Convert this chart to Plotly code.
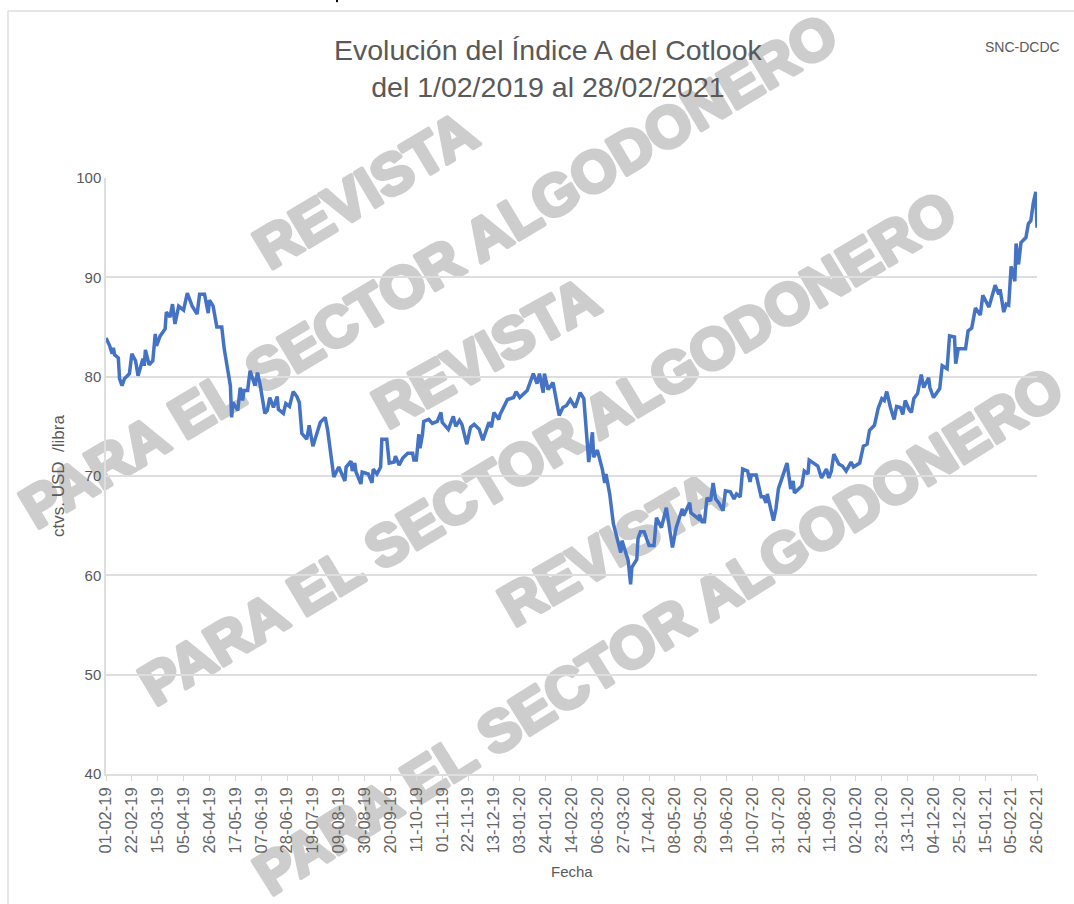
import pandas as pd
import plotly.graph_objects as go

start = pd.Timestamp("2019-02-01")
days = [0,3,5,6,7,10,11,13,15,19,21,24,26,30,31,32,35,38,40,41,44,48,49,52,54,56,59,63,66,70,74,76,80,83,84,87,90,94,96,101,102,103,107,109,111,112,115,117,121,123,125,129,131,133,136,139,140,144,146,149,152,155,157,159,163,165,168,174,178,180,185,189,194,195,199,200,202,203,207,208,213,216,217,220,223,224,228,230,234,235,238,241,245,249,250,252,254,255,257,258,262,265,269,272,273,278,282,284,287,289,293,296,299,303,306,311,313,315,319,320,326,331,333,336,342,347,350,352,355,356,359,363,368,371,374,377,381,385,388,392,395,396,399,403,405,406,409,412,418,419,424,426,427,431,432,434,437,441,445,447,451,455,460,463,468,469,474,475,481,482,484,486,488,491,493,495,498,501,503,507,510,512,515,517,521,523,524,528,532,534,536,537,542,544,546,551,553,556,558,559,565,567,570,571,576,578,581,585,587,589,591,595,598,601,605,607,612,615,618,620,624,627,630,632,634,637,640,642,645,647,649,652,654,656,659,662,664,668,669,672,677,679,683,685,689,690,692,698,700,703,706,710,712,717,722,725,726,729,731,733,735,738,739,741,743,747,749,751,753,755,756]
values = [83.9,83.1,82.3,82.9,82.2,81.9,79.8,79.1,79.8,80.3,82.3,81.6,80.1,81.8,81.1,82.7,81.2,81.6,84.3,83.1,84.1,84.8,86.5,86.0,87.3,85.3,87.1,86.7,88.4,87.1,86.3,88.3,88.3,86.4,87.7,87.1,85.0,85.0,82.8,79.1,75.9,77.4,76.6,78.9,77.6,78.6,78.6,80.6,79.1,80.4,79.3,76.3,76.6,77.9,76.9,78.0,76.7,76.3,77.3,77.0,78.5,78.0,77.4,74.3,73.7,75.1,73.0,75.4,75.9,74.6,69.9,70.9,69.5,70.9,71.5,70.5,71.3,70.4,69.2,70.4,70.2,69.3,70.7,70.2,70.9,73.7,73.7,71.3,71.4,72.0,71.1,71.8,72.3,72.3,71.6,71.6,74.2,72.8,74.2,75.5,75.7,75.3,75.5,76.4,75.4,74.7,76.0,75.0,75.6,75.2,73.2,74.9,75.2,74.7,73.6,75.4,74.9,76.4,75.7,76.2,77.7,77.9,78.5,77.9,78.6,80.3,79.3,80.3,78.4,80.3,78.7,79.4,76.1,76.9,77.1,77.7,76.9,78.4,77.8,71.4,74.4,71.9,72.6,70.7,69.3,70.2,68.2,65.2,62.3,63.5,61.5,59.1,60.8,61.6,63.7,64.4,64.4,63.0,63.0,65.8,64.8,66.8,62.8,64.8,66.7,66.0,67.3,66.3,65.7,66.1,65.4,65.4,67.8,67.5,69.3,67.7,67.2,66.5,68.5,68.4,67.7,68.2,67.9,70.7,70.5,69.4,70.1,70.1,67.9,67.9,67.3,68.2,65.5,66.7,68.7,70.5,71.3,68.7,69.5,68.3,69.0,70.5,70.2,71.6,71.2,71.0,69.8,70.7,69.8,70.5,72.2,71.2,71.0,70.5,71.4,70.9,71.3,73.0,73.2,74.6,75.1,76.8,77.8,77.6,78.5,76.9,75.7,77.0,76.9,76.2,77.6,76.7,76.4,77.8,78.3,80.2,78.9,79.9,78.9,77.9,78.8,81.1,80.8,84.1,84.0,81.3,82.8,82.8,84.6,84.9,86.9,86.2,88.2,87.0,89.2,88.3,88.8,86.5,87.3,87.2,91.1,89.6,93.4,91.3,93.5,94.0,95.4,95.7,97.5,98.6,95.0]

tick_dates = ["2019-02-01","2019-02-22","2019-03-15","2019-04-05","2019-04-26","2019-05-17","2019-06-07","2019-06-28","2019-07-19","2019-08-09","2019-08-30","2019-09-20","2019-10-11","2019-11-01","2019-11-22","2019-12-13","2020-01-03","2020-01-24","2020-02-14","2020-03-06","2020-03-27","2020-04-17","2020-05-08","2020-05-29","2020-06-19","2020-07-10","2020-07-31","2020-08-21","2020-09-11","2020-10-02","2020-10-23","2020-11-13","2020-12-04","2020-12-25","2021-01-15","2021-02-05","2021-02-26"]
tick_labels = [pd.Timestamp(d).strftime("%d-%m-%y") for d in tick_dates]
y_ticks = [40, 50, 60, 70, 80, 90, 100]

title_text = "Evolución del Índice A del Cotlook<br>del 1/02/2019 al 28/02/2021"
corner_text = "SNC-DCDC"
y_title = "ctvs. USD  /libra"
x_title = "Fecha"
wm_short = "REVISTA"
wm_long = "PARA EL SECTOR ALGODONERO"

dates = [start + pd.Timedelta(days=d) for d in days]
FONT = "Liberation Sans"
GREY = "#595959"
WM = "#cdcdcd"

fig = go.Figure(go.Scatter(x=dates, y=values, mode="lines",
                           line=dict(color="#4472C4", width=3.5, shape="linear"),
                           hoverinfo="skip", showlegend=False))

fig.update_layout(
    width=1074, height=904, autosize=False,
    margin=dict(l=106, r=37, t=178, b=130, pad=0),
    paper_bgcolor="white", plot_bgcolor="white",
    font=dict(family=FONT, color=GREY, size=14),
    xaxis=dict(type="date", range=[tick_dates[0], tick_dates[-1]],
               tickmode="array", tickvals=tick_dates, ticktext=tick_labels,
               tickangle=-90, tickfont=dict(size=16.5, color="#666666"),
               ticks="outside", ticklen=5, tickcolor="#D9D9D9", tickwidth=1,
               showline=True, linecolor="#DEDEDE", linewidth=1.5,
               showgrid=False, zeroline=False),
    yaxis=dict(range=[40, 100], tickmode="array", tickvals=y_ticks,
               tickfont=dict(size=15, color=GREY),
               ticks="", showline=True, linecolor="#DEDEDE", linewidth=1.5,
               showgrid=True, gridcolor="#DEDEDE", gridwidth=1.5, zeroline=False),
    shapes=[
        dict(type="line", xref="paper", yref="paper", x0=-0.1053, x1=1.04, y0=1.2802, y1=1.2802,
             line=dict(color="#DEDEDE", width=1.5)),
        dict(type="line", xref="paper", yref="paper", x0=-0.1053, x1=-0.1053, y0=1.2802, y1=-0.22,
             line=dict(color="#DEDEDE", width=1.5)),
        dict(type="line", xref="paper", yref="paper", x0=0.2481, x1=0.2481, y0=1.2987, y1=1.295,
             line=dict(color="black", width=2)),
    ],
)

def px_x(px):
    return (px - 106) / 931
def px_y(px):
    return (774 - px) / 596

def note(text, x, y, size, color=GREY, angle=0, bold=False):
    fig.add_annotation(text=f"<b>{text}</b>" if bold else text, xref="paper", yref="paper",
                       x=px_x(x), y=px_y(y), xanchor="center", yanchor="middle",
                       showarrow=False, textangle=angle,
                       font=dict(family=FONT, size=size, color=color))

note(title_text, 548, 68, 28.5)
note(corner_text, 1022, 47, 14)
note(x_title, 572, 871, 15)
note(y_title, 58, 476, 17, angle=-90)

for text, x, y, ang in [
    (wm_short, 365, 190, -31),
    (wm_long, 428, 270, -31),
    (wm_short, 485, 352, -29),
    (wm_long, 547, 447, -31),
    (wm_short, 610, 548, -30),
    (wm_long, 658, 630, -32),
]:
    note(text, x, y, 58, color=WM, angle=ang, bold=True)

# page without body margin; watermark thickened and placed under the line
post = """
document.body.style.margin = '0';
document.documentElement.style.overflow = 'hidden';
var svg = document.querySelector('.main-svg');
var cart = svg.querySelector('.cartesianlayer');
document.querySelectorAll('.annotation').forEach(function (a) {
  var t = a.querySelector('text');
  if (t && t.style.fill && t.style.fill.indexOf('205') >= 0) {
    t.style.stroke = '#cdcdcd';
    t.style.strokeWidth = '4px';
    t.style.strokeLinejoin = 'round';
    cart.parentNode.insertBefore(a, cart);
  }
});
"""
fig.write_html("out.html", post_script=post, config={"displayModeBar": False})
